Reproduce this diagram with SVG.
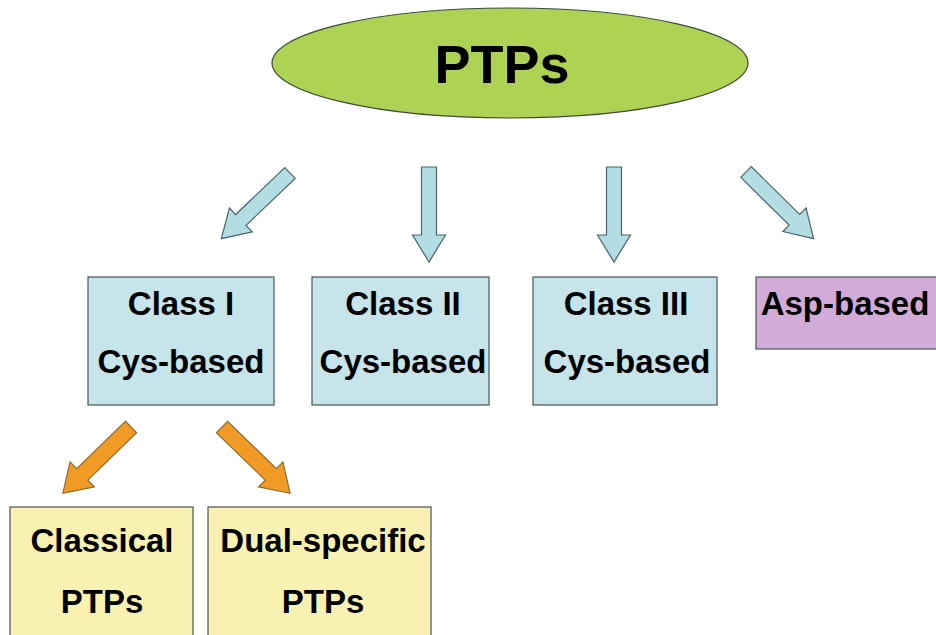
<svg xmlns="http://www.w3.org/2000/svg" width="936" height="635" viewBox="0 0 936 635">
<style>
.t{font-family:"Liberation Sans",Arial,sans-serif;font-weight:bold;fill:#000;text-anchor:middle;font-size:33px}
.box{stroke:#4d5355;stroke-width:1.2}
.blue{fill:#c6e4ea}
.purple{fill:#d2abd8}
.yellow{fill:#f8f1b2}
.arr{stroke:#48656b;stroke-width:1.2;stroke-linejoin:miter}
.barr{fill:#b3dde2}
.oarr{fill:#f19a26;stroke:#8a6a30}
</style>
<defs>
<path id="arrow" d="M-7.5,0 H7.5 V68 H16.5 L0,95 L-16.5,68 H-7.5 Z"/>
<path id="arrowO" d="M-8,0 H8 V68 H17.5 L0,95 L-17.5,68 H-8 Z"/>
</defs>
<rect width="936" height="635" fill="#fff"/>
<g id="ptps">
<ellipse cx="510" cy="63" rx="238" ry="55" fill="#aed253" stroke="#3d4b3a" stroke-width="1.2"/>
<text class="t" x="502" y="83" style="font-size:54px">PTPs</text>
</g>
<g id="connectors">
<use href="#arrow" class="arr barr" transform="translate(290,173) rotate(46.3)"/>
<use href="#arrow" class="arr barr" transform="translate(429,167)"/>
<use href="#arrow" class="arr barr" transform="translate(614,167)"/>
<use href="#arrow" class="arr barr" transform="translate(746,172) rotate(-45.4)"/>
<use href="#arrowO" class="arr oarr" transform="translate(131,427) rotate(45.8)"/>
<use href="#arrowO" class="arr oarr" transform="translate(222,427) rotate(-45.8)"/>
</g>
<g id="class1">
<rect class="box blue" x="88" y="277" width="186" height="128"/>
<text class="t" x="181" y="315">Class I</text>
<text class="t" x="181" y="373">Cys-based</text>
</g>
<g id="class2">
<rect class="box blue" x="312" y="277" width="177" height="128"/>
<text class="t" x="403" y="315">Class II</text>
<text class="t" x="403" y="373">Cys-based</text>
</g>
<g id="class3">
<rect class="box blue" x="533" y="277" width="184" height="128"/>
<text class="t" x="626" y="315">Class III</text>
<text class="t" x="627" y="373">Cys-based</text>
</g>
<g id="asp">
<rect class="box purple" x="756" y="277" width="190" height="72"/>
<text class="t" x="845" y="315">Asp-based</text>
</g>
<g id="classical">
<rect class="box yellow" x="10" y="507" width="183" height="140"/>
<text class="t" x="102" y="552">Classical</text>
<text class="t" x="102" y="613">PTPs</text>
</g>
<g id="dual">
<rect class="box yellow" x="208" y="507" width="223" height="140"/>
<text class="t" x="323" y="552">Dual-specific</text>
<text class="t" x="323" y="613">PTPs</text>
</g>
</svg>
